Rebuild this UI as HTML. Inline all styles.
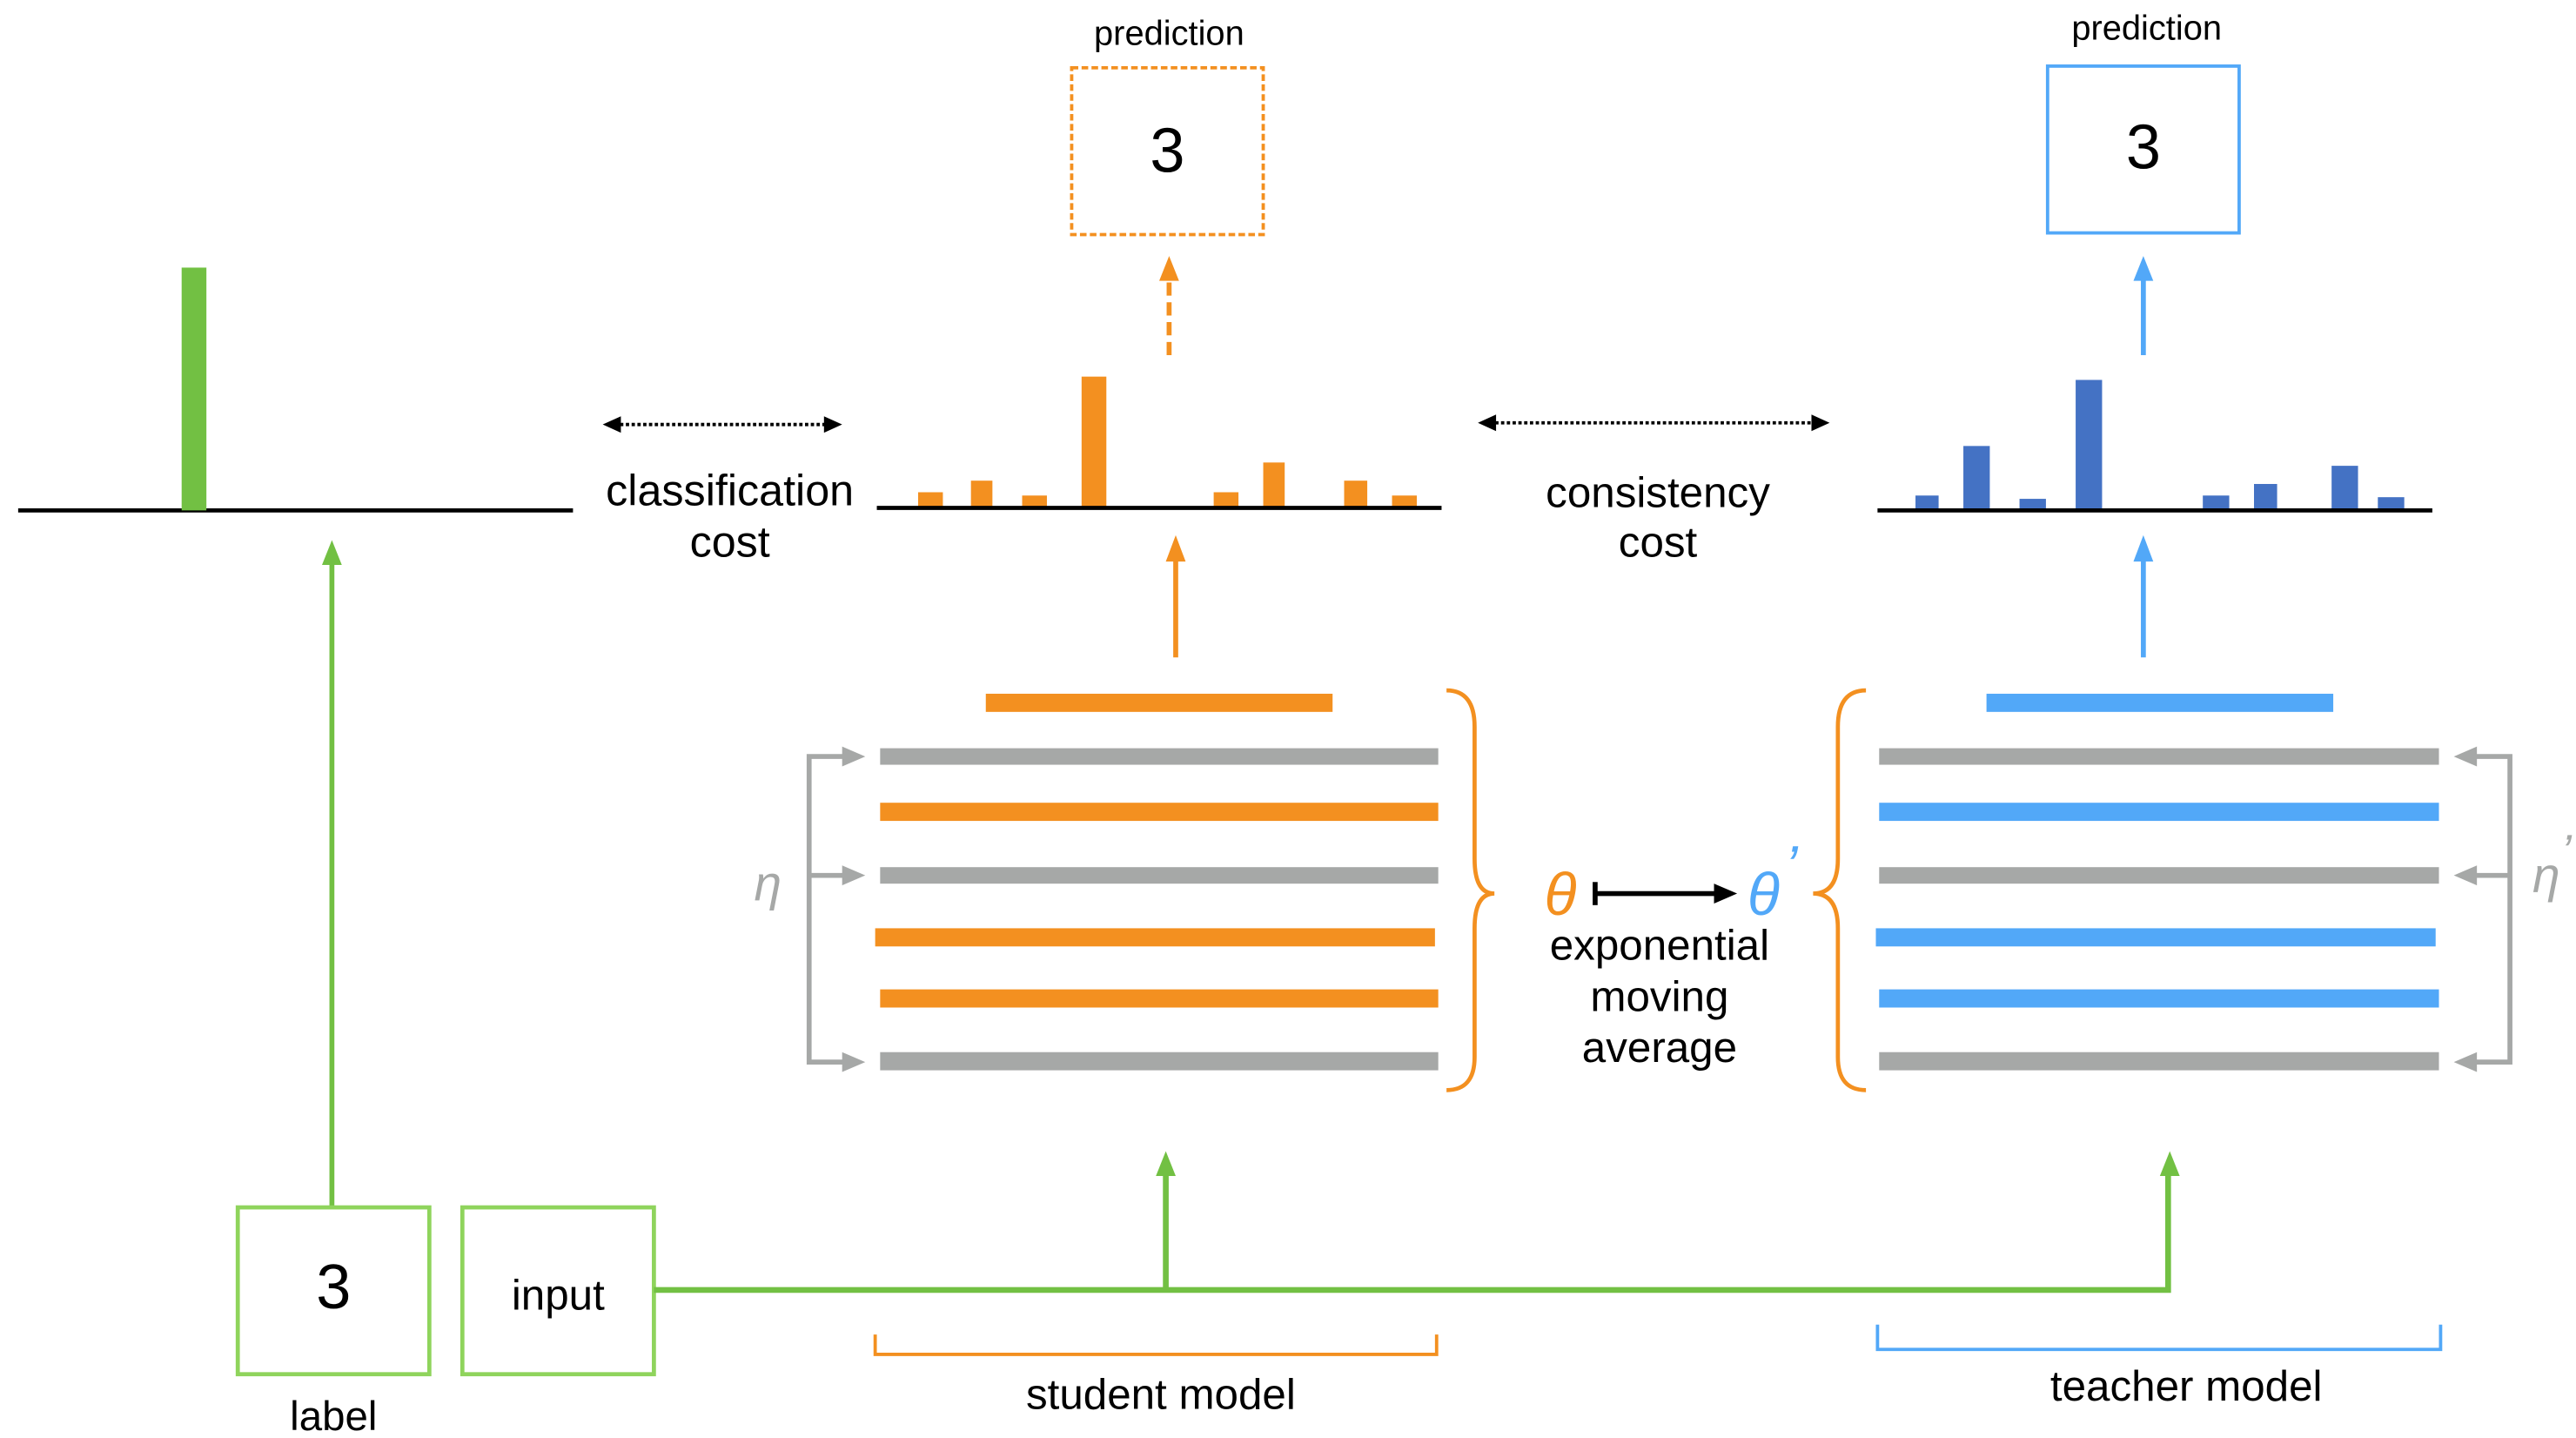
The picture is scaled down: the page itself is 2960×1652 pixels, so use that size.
<!DOCTYPE html>
<html><head><meta charset="utf-8"><style>html,body{margin:0;padding:0;background:#fff}svg{display:block}text{font-family:"Liberation Sans",sans-serif}</style></head>
<body>
<svg width="2960" height="1652" viewBox="0 0 1560 870.6" xmlns="http://www.w3.org/2000/svg">
<!-- left histogram -->
<line x1="11" y1="309" x2="347" y2="309" stroke="#000" stroke-width="2.5"/>
<rect x="110" y="162" width="15" height="147" fill="#72c043"/>
<!-- green arrows -->
<line x1="201" y1="731" x2="201" y2="340" stroke="#72c043" stroke-width="3"/>
<path d="M195,342 L201,327 L207,342z" fill="#72c043"/>
<rect x="144" y="731" width="116" height="101" fill="none" stroke="#8fd45c" stroke-width="2.5"/>
<text x="202" y="792" font-size="38" text-anchor="middle">3</text>
<text x="202" y="866" font-size="25" text-anchor="middle">label</text>
<rect x="280" y="731" width="116" height="101" fill="none" stroke="#8fd45c" stroke-width="2.5"/>
<text x="338" y="793" font-size="26" text-anchor="middle">input</text>
<polyline points="396,781 1313,781 1313,710" fill="none" stroke="#72c043" stroke-width="3.5"/>
<line x1="706" y1="781" x2="706" y2="710" stroke="#72c043" stroke-width="3.5"/>
<path d="M700,712 L706,697 L712,712z" fill="#72c043"/>
<path d="M1308,712 L1314,697 L1320,712z" fill="#72c043"/>
<!-- classification cost -->
<line x1="372" y1="257" x2="503" y2="257" stroke="#000" stroke-width="2" stroke-dasharray="2,1.5"/>
<path d="M365,257 L376,252 L376,262z M510,257 L499,252 L499,262z" fill="#000"/>
<text x="442" y="306" font-size="26.5" text-anchor="middle">classification</text>
<text x="442" y="337" font-size="26.5" text-anchor="middle">cost</text>
<!-- student histogram -->
<g fill="#f39020">
<rect x="556" y="298" width="15" height="9"/><rect x="588" y="291" width="13" height="16"/><rect x="619" y="300" width="15" height="7"/><rect x="655" y="228" width="15" height="79"/><rect x="735" y="298" width="15" height="9"/><rect x="765" y="280" width="13" height="27"/><rect x="814" y="291" width="14" height="16"/><rect x="843" y="300" width="15" height="7"/>
</g>
<line x1="531" y1="307.5" x2="873" y2="307.5" stroke="#000" stroke-width="2.5"/>
<line x1="712" y1="398" x2="712" y2="338" stroke="#f39020" stroke-width="3"/>
<path d="M706,340 L712,324 L718,340z" fill="#f39020"/>
<line x1="708" y1="215" x2="708" y2="168" stroke="#f39020" stroke-width="3" stroke-dasharray="8,4"/>
<path d="M702,170 L708,155 L714,170z" fill="#f39020"/>
<rect x="649" y="41" width="116" height="101" fill="none" stroke="#f39020" stroke-width="2" stroke-dasharray="4,2"/>
<text x="707" y="104" font-size="38" text-anchor="middle">3</text>
<text x="708" y="27" font-size="21" text-anchor="middle">prediction</text>
<!-- student layers -->
<rect x="597" y="420" width="210" height="11" fill="#f39020"/>
<rect x="533" y="453" width="338" height="10" fill="#a6a8a7"/>
<rect x="533" y="486" width="338" height="11" fill="#f39020"/>
<rect x="533" y="525" width="338" height="10" fill="#a6a8a7"/>
<rect x="530" y="562" width="339" height="11" fill="#f39020"/>
<rect x="533" y="599" width="338" height="11" fill="#f39020"/>
<rect x="533" y="637" width="338" height="11" fill="#a6a8a7"/>
<g stroke="#a6a8a7" stroke-width="3" fill="none"><polyline points="512,458 490,458 490,643 512,643"/><line x1="490" y1="530" x2="512" y2="530"/></g>
<g fill="#a6a8a7"><path d="M510,452 L524,458 L510,464z M510,524 L524,530 L510,536z M510,637 L524,643 L510,649z"/></g>
<text x="465" y="545" font-size="30" font-style="italic" fill="#a6a8a7" text-anchor="middle" font-family="Liberation Serif">η</text>
<!-- braces -->
<path d="M876,418 Q893,418 893,440 L893,520 Q893,541 905,541 Q893,541 893,562 L893,640 Q893,660 876,660" fill="none" stroke="#f39020" stroke-width="2.5"/>
<path d="M1130,418 Q1113,418 1113,440 L1113,520 Q1113,541 1098,541 Q1113,541 1113,562 L1113,640 Q1113,660 1130,660" fill="none" stroke="#f39020" stroke-width="2.5"/>
<text x="945" y="554" font-size="36" font-style="italic" fill="#f39020" text-anchor="middle" font-family="Liberation Serif">θ</text>
<line x1="966" y1="534" x2="966" y2="548" stroke="#000" stroke-width="3"/>
<line x1="966" y1="541" x2="1040" y2="541" stroke="#000" stroke-width="3"/>
<path d="M1038,535 L1052,541 L1038,547z" fill="#000"/>
<text x="1068" y="554" font-size="36" font-style="italic" fill="#52a8f8" text-anchor="middle" font-family="Liberation Serif">θ</text>
<text x="1081" y="536" font-size="34" font-style="italic" fill="#52a8f8" font-family="Liberation Serif">’</text>
<text x="1005" y="581" font-size="26" text-anchor="middle">exponential</text>
<text x="1005" y="612" font-size="26" text-anchor="middle">moving</text>
<text x="1005" y="643" font-size="26" text-anchor="middle">average</text>
<!-- consistency cost -->
<line x1="902" y1="256" x2="1101" y2="256" stroke="#000" stroke-width="2" stroke-dasharray="2,1.5"/>
<path d="M895,256 L906,251 L906,261z M1108,256 L1097,251 L1097,261z" fill="#000"/>
<text x="1004" y="307" font-size="26" text-anchor="middle">consistency</text>
<text x="1004" y="337" font-size="26" text-anchor="middle">cost</text>
<!-- teacher histogram -->
<g fill="#4472c4">
<rect x="1160" y="300" width="14" height="9"/><rect x="1189" y="270" width="16" height="39"/><rect x="1223" y="302" width="16" height="7"/><rect x="1257" y="230" width="16" height="79"/><rect x="1334" y="300" width="16" height="9"/><rect x="1365" y="293" width="14" height="16"/><rect x="1412" y="282" width="16" height="27"/><rect x="1440" y="301" width="16" height="8"/>
</g>
<line x1="1137" y1="309" x2="1473" y2="309" stroke="#000" stroke-width="2.5"/>
<line x1="1298" y1="398" x2="1298" y2="338" stroke="#52a8f8" stroke-width="3"/>
<path d="M1292,340 L1298,324 L1304,340z" fill="#52a8f8"/>
<line x1="1298" y1="215" x2="1298" y2="168" stroke="#52a8f8" stroke-width="3"/>
<path d="M1292,170 L1298,155 L1304,170z" fill="#52a8f8"/>
<rect x="1240" y="40" width="116" height="101" fill="none" stroke="#52a8f8" stroke-width="2"/>
<text x="1298" y="102" font-size="38" text-anchor="middle">3</text>
<text x="1300" y="24" font-size="21" text-anchor="middle">prediction</text>
<!-- teacher layers -->
<rect x="1203" y="420" width="210" height="11" fill="#52a8f8"/>
<rect x="1138" y="453" width="339" height="10" fill="#a6a8a7"/>
<rect x="1138" y="486" width="339" height="11" fill="#52a8f8"/>
<rect x="1138" y="525" width="339" height="10" fill="#a6a8a7"/>
<rect x="1136" y="562" width="339" height="11" fill="#52a8f8"/>
<rect x="1138" y="599" width="339" height="11" fill="#52a8f8"/>
<rect x="1138" y="637" width="339" height="11" fill="#a6a8a7"/>
<g stroke="#a6a8a7" stroke-width="3" fill="none"><polyline points="1498,458 1520,458 1520,643 1498,643"/><line x1="1520" y1="530" x2="1498" y2="530"/></g>
<g fill="#a6a8a7"><path d="M1500,452 L1486,458 L1500,464z M1500,524 L1486,530 L1500,536z M1500,637 L1486,643 L1500,649z"/></g>
<text x="1542" y="540" font-size="30" font-style="italic" fill="#a6a8a7" text-anchor="middle" font-family="Liberation Serif">η</text>
<text x="1551" y="525" font-size="28" font-style="italic" fill="#a6a8a7" font-family="Liberation Serif">’</text>
<!-- model brackets -->
<polyline points="530,808 530,820 870,820 870,808" fill="none" stroke="#f39020" stroke-width="2"/>
<text x="703" y="853" font-size="26" text-anchor="middle">student model</text>
<polyline points="1137,802 1137,817 1478,817 1478,802" fill="none" stroke="#52a8f8" stroke-width="2"/>
<text x="1324" y="848" font-size="26" text-anchor="middle">teacher model</text>
</svg>
</body></html>
